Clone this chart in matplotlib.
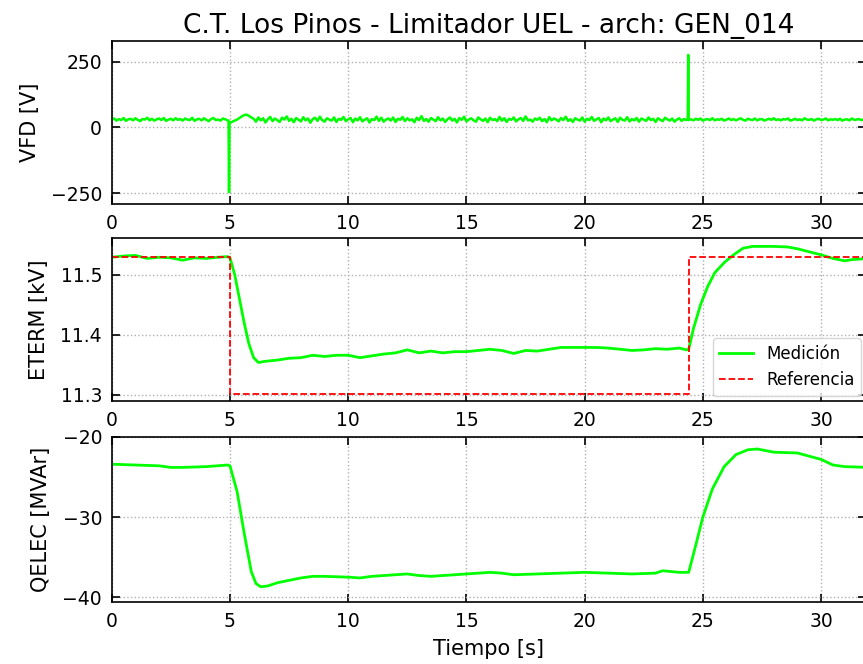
import numpy as np
import matplotlib.pyplot as plt

# VFD [V] - noisy trace read every 0.1 s, plus the two spikes
vfd_dt = 0.1
vfd_base = [
    # 0.0 - 4.9 s
    30, 34, 26, 32, 28, 36, 25, 31, 33, 27, 35, 29, 24, 32, 30, 37, 27, 33, 26, 31,
    34, 28, 36, 25, 30, 33, 27, 35, 29, 32, 26, 34, 30, 28, 37, 25, 31, 33, 27, 35,
    29, 24, 32, 36, 28, 30, 26, 34, 31, 27,
    # 5.0 - 5.9 s
    18, 22, 26, 30, 36, 42, 47, 49, 44, 38,
    # 6.0 - 24.4 s
    33, 22, 38, 27, 35, 19, 31, 40, 24, 34, 28, 21, 37, 30, 42, 25, 33, 20, 36, 29,
    23, 39, 27, 34, 18, 32, 37, 25, 41, 28, 22, 35, 30, 26, 38, 21, 33, 29, 40, 24,
    31, 36, 20, 34, 27, 39, 23, 30, 35, 19, 32, 28, 41, 25, 37, 22, 30, 34, 26, 38,
    21, 33, 29, 40, 24, 35, 27, 31, 20, 37, 28, 43, 25, 32, 22, 36, 30, 24, 39, 27,
    34, 21, 31, 38, 26, 33, 19, 36, 29, 41, 23, 30, 35, 27, 22, 38, 31, 25, 34, 20,
    37, 28, 32, 24, 40, 26, 35, 21, 33, 29, 38, 23, 31, 36, 25, 42, 27, 30, 22, 34,
    29, 37, 24, 32, 20, 39, 27, 34, 30, 23, 36, 28, 41, 25, 31, 21, 35, 30, 26, 38,
    22, 33, 28, 40, 25, 31, 36, 20, 34, 27, 38, 24, 30, 35, 21, 37, 29, 26, 39, 23,
    32, 27, 36, 22, 34, 30, 25, 38, 28, 33, 21, 35, 29, 24, 37, 31, 26, 34, 22, 30,
    35, 25, 32, 28, 30,
    # 24.5 - 31.5 s
    31, 27, 33, 29, 34, 26, 30, 32, 28, 35, 27, 31, 29, 33, 26, 30, 34, 28, 32, 27,
    31, 35, 29, 26, 33, 30, 28, 34, 27, 31, 32, 26, 30, 33, 29, 35, 28, 31, 27, 32,
    30, 34, 26, 29, 33, 28, 31, 27, 35, 30, 29, 32, 26, 31, 33, 28, 30, 34, 27, 31,
    29, 32, 28, 33, 26, 30, 31, 27, 34, 29, 30,
    # 31.6 - 32.0 s
    32, 28, 31, 29, 30,
]
vfd_spike_t = [4.94, 4.96, 4.98, 24.36, 24.38, 24.40]
vfd_spike_v = [26, -245, 16, 30, 275, 28]

# ETERM [kV]
eterm_t = [0, 0.5, 1.0, 1.5, 2.0, 2.5, 3.0, 3.5, 4.0, 4.5,
           4.9, 5.0, 5.2, 5.4, 5.6, 5.8, 6.0, 6.2, 6.5,
           7.0, 7.5, 8.0, 8.5, 9.0, 9.5, 10.0, 10.5, 11.0, 11.5, 12.0, 12.5,
           13.0, 13.5, 14.0, 14.5, 15.0, 15.5, 16.0, 16.5, 17.0, 17.5, 18.0,
           18.5, 19.0, 19.5, 20.0, 20.5, 21.0, 21.5, 22.0, 22.5, 23.0, 23.5, 24.0,
           24.3, 24.4, 24.6, 24.9, 25.2, 25.5, 25.9, 26.3, 26.7, 27.1,
           28.0, 28.6, 29.0, 29.5, 30.0, 30.5, 31.0, 31.3, 32.0]
eterm_v = [11.529, 11.531, 11.532, 11.527, 11.529, 11.528, 11.524, 11.528, 11.527, 11.529,
           11.530, 11.528, 11.500, 11.460, 11.420, 11.385, 11.362, 11.354, 11.356,
           11.358, 11.361, 11.362, 11.366, 11.364, 11.366, 11.366, 11.362, 11.365, 11.368, 11.370, 11.375,
           11.370, 11.373, 11.370, 11.372, 11.372, 11.374, 11.376, 11.374, 11.369, 11.374, 11.373,
           11.376, 11.379, 11.379, 11.379, 11.379, 11.378, 11.376, 11.374, 11.375, 11.377, 11.376, 11.378,
           11.375, 11.376, 11.410, 11.450, 11.480, 11.503, 11.520, 11.533, 11.544, 11.547,
           11.547, 11.546, 11.543, 11.538, 11.533, 11.527, 11.523, 11.525, 11.527]
ref_t = [0, 5.0, 5.0, 24.4, 24.4, 32.0]
ref_v = [11.53, 11.53, 11.302, 11.302, 11.53, 11.53]

# QELEC [MVAr]
qelec_t = [0, 1, 2, 2.5, 3, 4, 4.9,
           5.0, 5.3, 5.6, 5.9, 6.1, 6.3, 6.6,
           7.0, 7.5, 8.0, 8.5, 9.0,
           10.0, 10.5, 11.0, 12.0, 12.5, 13.0, 13.5, 14.0,
           15, 16, 16.5, 17, 18, 19, 20, 21, 22, 23, 23.3,
           24, 24.4, 24.7, 25.0, 25.4, 25.9, 26.4, 26.9, 27.3,
           28, 29, 30, 30.5, 31, 32.0]
qelec_v = [-23.4, -23.5, -23.6, -23.8, -23.8, -23.7, -23.5,
           -23.6, -26.8, -32.0, -36.8, -38.3, -38.7, -38.6,
           -38.2, -37.9, -37.6, -37.4, -37.4,
           -37.5, -37.6, -37.4, -37.2, -37.1, -37.3, -37.4, -37.3,
           -37.1, -36.9, -37.0, -37.2, -37.1, -37.0, -36.9, -37.0, -37.1, -37.0, -36.7,
           -36.9, -36.9, -33.5, -30.0, -26.5, -23.7, -22.2, -21.6, -21.5,
           -21.9, -22.0, -22.8, -23.5, -23.7, -23.8]

vfd_t = np.concatenate([np.arange(len(vfd_base)) * vfd_dt, vfd_spike_t])
vfd_v = np.concatenate([vfd_base, vfd_spike_v])
order = np.argsort(vfd_t)
vfd_t, vfd_v = vfd_t[order], vfd_v[order]

green = '#00ff00'
plt.rcParams['font.size'] = 13.5

fig = plt.figure(figsize=(8.63, 6.64), dpi=100)
left, width = 0.1295, 0.874
ax1 = fig.add_axes([left, 0.6928, width, 0.2455])
ax2 = fig.add_axes([left, 0.3961, width, 0.2455])
ax3 = fig.add_axes([left, 0.0934, width, 0.2485])

ax1.plot(vfd_t, vfd_v, color=green, lw=1.8)
ax1.set_ylim(-290, 328)
ax1.set_yticks([-250, 0, 250])
ax1.set_ylabel('VFD [V]', fontsize=15, labelpad=8)
ax1.set_title('C.T. Los Pinos - Limitador UEL - arch: GEN_014', fontsize=19, pad=6)

ax2.plot(eterm_t, eterm_v, color=green, lw=2, label='Medición')
ax2.plot(ref_t, ref_v, color='#ff0000', ls='--', lw=1.3, label='Referencia')
ax2.set_ylim(11.29, 11.561)
ax2.set_yticks([11.3, 11.4, 11.5])
ax2.set_ylabel('ETERM [kV]', fontsize=15, labelpad=8)
ax2.legend(loc='lower right', fontsize=12, borderaxespad=0.3)

ax3.plot(qelec_t, qelec_v, color=green, lw=2)
ax3.set_ylim(-40.6, -20)
ax3.set_yticks([-40, -30, -20])
ax3.set_ylabel('QELEC [MVAr]', fontsize=15, labelpad=8)
ax3.set_xlabel('Tiempo [s]', fontsize=15, labelpad=6)

for ax in (ax1, ax2, ax3):
    ax.set_xlim(0, 31.9)
    ax.set_xticks([0, 5, 10, 15, 20, 25, 30])
    ax.grid(True, ls=':', color='#b0b0b0', lw=1)
    ax.tick_params(direction='in', top=True, right=True, length=6, width=1.2, pad=7)
    for s in ax.spines.values():
        s.set_linewidth(1.2)

fig.savefig('out.png', dpi=100)
